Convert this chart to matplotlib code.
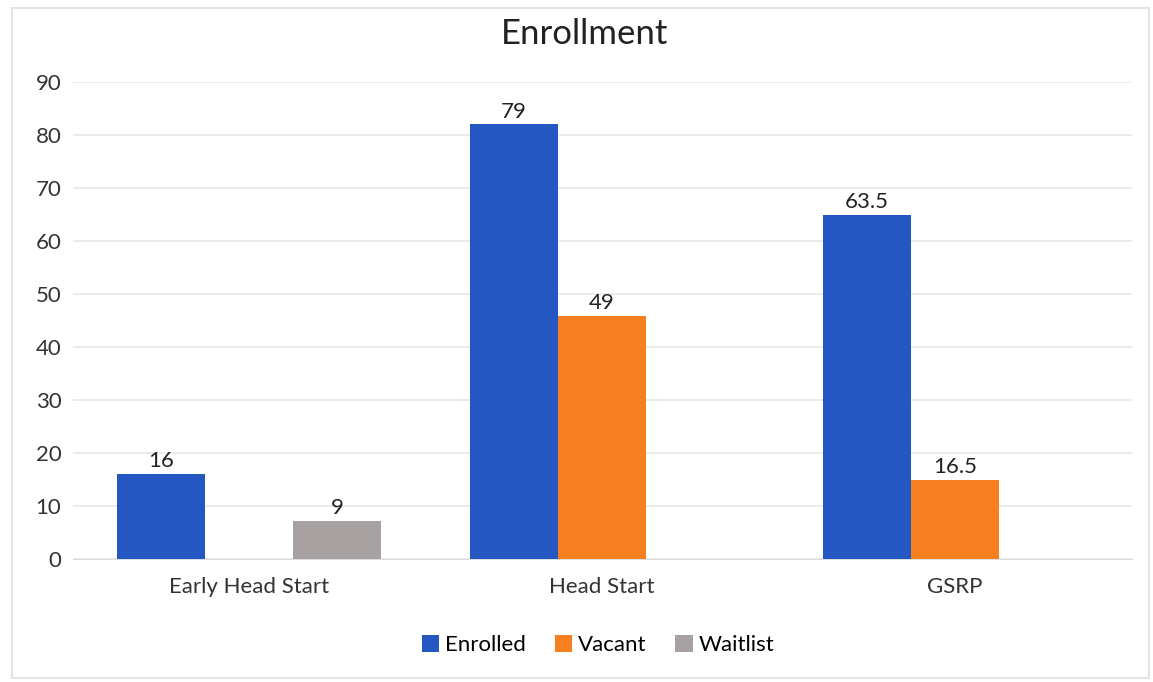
import numpy as np
import matplotlib.pyplot as plt
from matplotlib.patches import Rectangle

# datos
categorias = ['Early Head Start', 'Head Start', 'GSRP']
series = ['Enrolled', 'Vacant', 'Waitlist']
enrolled = [16, 82, 65]
vacant = [0, 45.8, 15]
waitlist = [7.2, 0, 0]
# etiquetas tal como aparecen en la imagen
etq_enrolled = ['16', '79', '63.5']
etq_vacant = ['', '49', '16.5']
etq_waitlist = ['9', '', '']

colores = ['#2557C3', '#F6801F', '#A8A1A2']

plt.rcParams['font.family'] = ['Lato', 'DejaVu Sans']

fig = plt.figure(figsize=(11.53, 6.82), dpi=100)
ax = fig.add_axes([72.5 / 1153, 1 - 559 / 682, (1131.5 - 72.5) / 1153, (559 - 82) / 682])

# borde claro del grafico
fig.patches.append(Rectangle((12 / 1153, 4 / 682), 1 - 16 / 1153, 1 - 12 / 682,
                             transform=fig.transFigure, fill=False,
                             edgecolor='#E4E4E4', linewidth=1.5))

x = np.arange(len(categorias))
ancho = 0.25
datos = [enrolled, vacant, waitlist]
etiquetas = [etq_enrolled, etq_vacant, etq_waitlist]

for i, (vals, etqs) in enumerate(zip(datos, etiquetas)):
    pos = x + (i - 1) * ancho
    barras = ax.bar(pos, vals, ancho, color=colores[i], label=series[i], zorder=3)
    for b, t in zip(barras, etqs):
        if t:
            ax.annotate(t, (b.get_x() + b.get_width() / 2, b.get_height()),
                        xytext=(0, 2), textcoords='offset points',
                        ha='center', va='bottom', fontsize=16, color='#222222')

ax.set_xlim(-0.5, 2.5)
ax.set_ylim(0, 90)
ax.set_yticks(range(0, 91, 10))
ax.set_xticks(x)
ax.set_xticklabels(categorias)
ax.grid(axis='y', color='#E8E8E8', linewidth=1.2, zorder=0)
for s in ['top', 'right', 'left']:
    ax.spines[s].set_visible(False)
ax.spines['bottom'].set_color('#DDDDDD')
ax.tick_params(axis='both', length=0, labelsize=16, colors='#333333')
ax.tick_params(axis='y', pad=8)
ax.tick_params(axis='x', pad=13)

fig.text(585 / 1153, 1 - 34 / 682, 'Enrollment', ha='center', va='center',
         fontsize=25, color='#222222')

fig.legend(loc='center', bbox_to_anchor=(598 / 1153, 1 - 645 / 682), ncol=3,
           frameon=False, fontsize=16, handlelength=0.8, handleheight=0.8,
           handletextpad=0.25, columnspacing=1.3)

plt.savefig('out.png', dpi=100)
